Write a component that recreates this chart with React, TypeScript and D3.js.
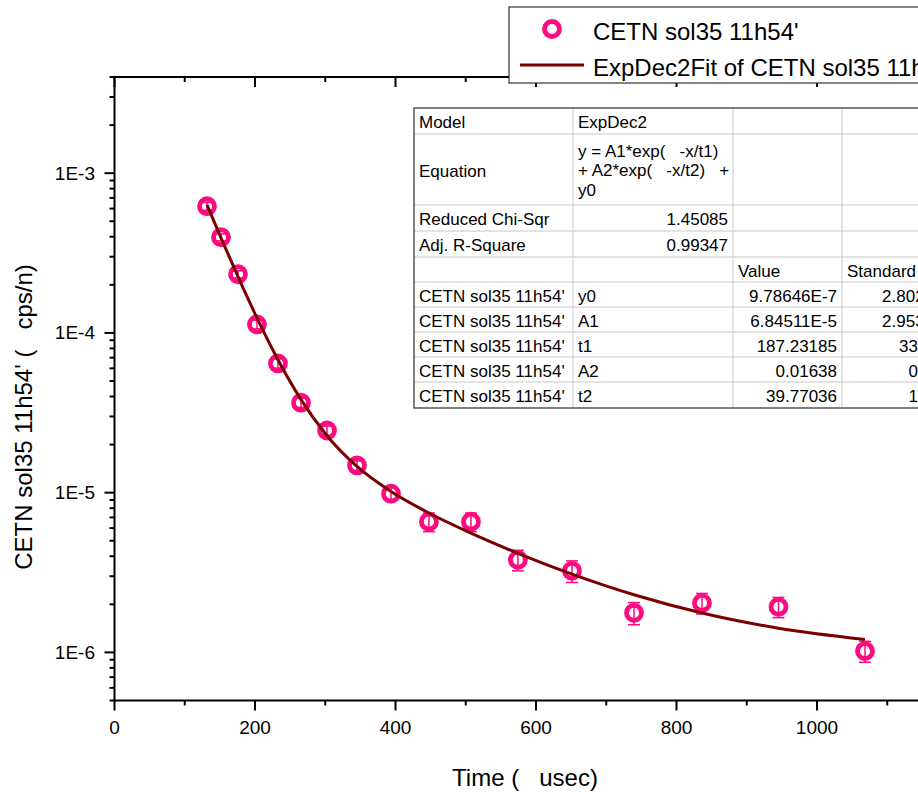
import React from "react";
import * as d3 from "d3";

// ---- data ----
const timeValues = [131.7, 151.6, 175.8, 202.8, 232.7, 265.5, 302.5, 345.2, 393.6, 447.6, 507.4, 574.3, 651.2, 739.5, 836.3, 945.2, 1068.3];
const countValues = [6.21e-4, 3.97e-4, 2.33e-4, 1.13e-4, 6.44e-5, 3.66e-5, 2.45e-5, 1.48e-5, 9.86e-6, 6.58e-6, 6.58e-6, 3.8e-6, 3.24e-6, 1.77e-6, 2.04e-6, 1.93e-6, 1.02e-6];
const countErrors = [3.5e-5, 2.0e-5, 1.2e-5, 7e-6, 4.2e-6, 2.4e-6, 1.6e-6, 1.0e-6, 0.9e-6, 0.88e-6, 0.88e-6, 0.56e-6, 0.5e-6, 0.28e-6, 0.3e-6, 0.28e-6, 0.153e-6];

const seriesName = "CETN sol35 11h54'";
const fitName = "ExpDec2Fit of CETN sol35 11h54'";

const paramNames = ["y0", "A1", "t1", "A2", "t2"];
const paramValues = [9.78646e-7, 6.84511e-5, 187.23185, 0.01638, 39.77036];
const paramValueLabels = ["9.78646E-7", "6.84511E-5", "187.23185", "0.01638", "39.77036"];
const paramErrorLabels = ["2.80237E-7", "2.95391E-5", "33.12734", "0.00127", "1.08325"];
const modelName = "ExpDec2";
const equationLines = ["y = A1*exp(   -x/t1)", "+ A2*exp(   -x/t2)   +", "y0"];
const chiSqrLabel = "1.45085";
const adjR2Label = "0.99347";

const xTitle = "Time (   usec)";
const yTitle = "CETN sol35 11h54' (   cps/n)";

// ---- layout ----
const W = 918;
const H = 792;
const left = 114.5;
const top = 77;
const bottom = 700.5;
const PINK = "#ff0a80";
const FIT = "#7a0000";
const FONT = "'Liberation Sans', Arial, sans-serif";

const x = d3.scaleLinear().domain([0, 1200]).range([left, left + 843]);
const y = d3.scaleLog().domain([5e-7, 4e-3]).range([bottom, top]);

function fitModel(t: number) {
  const [y0, A1, t1, A2, t2] = paramValues;
  return A1 * Math.exp(-t / t1) + A2 * Math.exp(-t / t2) + y0;
}

export default function App() {
  const yTicks = y.ticks();
  const isMajorY = (d: number) => {
    const e = Math.log10(d);
    return Math.abs(e - Math.round(e)) < 1e-6;
  };
  const xTicks = x.ticks(12);
  const isMajorX = (d: number) => d % 200 === 0;

  const fitPts = timeValues.map((t) => [x(t), y(fitModel(t))] as [number, number]);
  const fitPath = d3.line().curve(d3.curveMonotoneX)(fitPts) || "";

  // table geometry
  const colX = [414, 573, 733, 842, 975];
  const rowY = [108, 134, 205, 231, 257, 282, 307, 332, 357, 382, 408];
  const cellText = (
    txt: string,
    col: number,
    row: number,
    align: "start" | "end" = "start",
    key?: string
  ) => {
    const cy = (rowY[row] + rowY[row + 1]) / 2 + 1.5;
    const tx = align === "start" ? colX[col] + 5 : colX[col + 1] - 5;
    return (
      <text key={key} x={tx} y={cy} textAnchor={align} dominantBaseline="central" fontSize={17} style={{ whiteSpace: "pre" }}>
        {txt}
      </text>
    );
  };

  return (
    <div style={{ position: "fixed", left: 0, top: 0, width: W, height: H, background: "#fff" }}>
      <svg width={W} height={H} fontFamily={FONT} style={{ display: "block" }}>
        <rect x={0} y={0} width={W} height={H} fill="#fff" />

        {/* y-axis ticks (outward, left) */}
        {yTicks.map((d, i) => {
          const major = isMajorY(d);
          const py = y(d);
          return (
            <g key={"yt" + i}>
              <line x1={left - (major ? 10 : 5)} x2={left} y1={py} y2={py} stroke="#000" strokeWidth={2} />
              {major && (
                <text x={95} y={py} textAnchor="end" dominantBaseline="central" fontSize={19}>
                  {`1E${Math.round(Math.log10(d))}`}
                </text>
              )}
            </g>
          );
        })}

        {/* x-axis ticks bottom (outward) and top (inward) */}
        {xTicks.map((d, i) => {
          const major = isMajorX(d);
          const px = x(d);
          const len = major ? 10 : 5;
          return (
            <g key={"xt" + i}>
              <line x1={px} x2={px} y1={bottom} y2={bottom + len} stroke="#000" strokeWidth={2} />
              <line x1={px} x2={px} y1={top} y2={top + len} stroke="#000" strokeWidth={2} />
              {major && px + 20 < W && (
                <text x={px} y={727} textAnchor="middle" dominantBaseline="central" fontSize={19}>
                  {d3.format("d")(d)}
                </text>
              )}
            </g>
          );
        })}

        {/* axis lines */}
        <line x1={left} x2={left} y1={top - 1} y2={bottom + 1} stroke="#000" strokeWidth={2} />
        <line x1={left - 1} x2={W + 10} y1={bottom} y2={bottom} stroke="#000" strokeWidth={2} />
        <line x1={left - 1} x2={W + 10} y1={top} y2={top} stroke="#000" strokeWidth={2} />

        {/* axis titles */}
        <text x={525} y={777} textAnchor="middle" dominantBaseline="central" fontSize={24} style={{ whiteSpace: "pre" }}>
          {xTitle}
        </text>
        <text
          transform={`translate(23,417) rotate(-90)`}
          textAnchor="middle"
          dominantBaseline="central"
          fontSize={24}
          style={{ whiteSpace: "pre" }}
        >
          {yTitle}
        </text>

        {/* parameter table */}
        <g>
          <rect x={colX[0]} y={rowY[0]} width={colX[4] - colX[0]} height={rowY[10] - rowY[0]} fill="#fff" />
          {rowY.slice(1, -1).map((ry, i) => (
            <line key={"hr" + i} x1={colX[0]} x2={colX[4]} y1={ry} y2={ry} stroke="#c8c8c8" strokeWidth={1} />
          ))}
          {colX.slice(1, -1).map((cx, i) => (
            <line key={"vc" + i} x1={cx} x2={cx} y1={rowY[0]} y2={rowY[10]} stroke="#c8c8c8" strokeWidth={1} />
          ))}
          <rect
            x={colX[0]}
            y={rowY[0]}
            width={colX[4] - colX[0]}
            height={rowY[10] - rowY[0]}
            fill="none"
            stroke="#555"
            strokeWidth={1.5}
          />
          {cellText("Model", 0, 0)}
          {cellText(modelName, 1, 0)}
          {cellText("Equation", 0, 1)}
          {equationLines.map((ln, i) => (
            <text
              key={"eq" + i}
              x={colX[1] + 5}
              y={(rowY[1] + rowY[2]) / 2 + 1 + (i - 1) * 19.5}
              dominantBaseline="central"
              fontSize={17}
              style={{ whiteSpace: "pre" }}
            >
              {ln}
            </text>
          ))}
          {cellText("Reduced Chi-Sqr", 0, 2)}
          {cellText(chiSqrLabel, 1, 2, "end")}
          {cellText("Adj. R-Square", 0, 3)}
          {cellText(adjR2Label, 1, 3, "end")}
          {cellText("Value", 2, 4)}
          {cellText("Standard Error", 3, 4)}
          {paramNames.map((p, i) => (
            <g key={"pr" + i}>
              {cellText(seriesName, 0, 5 + i)}
              {cellText(p, 1, 5 + i)}
              {cellText(paramValueLabels[i], 2, 5 + i, "end")}
              {cellText(paramErrorLabels[i], 3, 5 + i, "end")}
            </g>
          ))}
        </g>

        {/* error bars */}
        {timeValues.map((t, i) => {
          const px = x(t);
          const yl = y(countValues[i] - countErrors[i]);
          const yh = y(countValues[i] + countErrors[i]);
          return (
            <g key={"eb" + i} stroke={PINK} strokeWidth={1.5}>
              <line x1={px} x2={px} y1={yl} y2={yh} />
              <line x1={px - 6} x2={px + 6} y1={yl} y2={yl} />
              <line x1={px - 6} x2={px + 6} y1={yh} y2={yh} />
            </g>
          );
        })}

        {/* markers */}
        {timeValues.map((t, i) => (
          <circle key={"m" + i} cx={x(t)} cy={y(countValues[i])} r={7.5} fill="none" stroke={PINK} strokeWidth={4.8} />
        ))}

        {/* fit line */}
        <path d={fitPath} fill="none" stroke={FIT} strokeWidth={3} />

        {/* legend */}
        <g>
          <rect x={509} y={7} width={480} height={76} fill="#fff" stroke="#333" strokeWidth={1.2} />
          <circle cx={552} cy={29} r={7.5} fill="none" stroke={PINK} strokeWidth={4.8} />
          <text x={593} y={31} dominantBaseline="central" fontSize={24}>
            {seriesName}
          </text>
          <line x1={520} x2={584} y1={65} y2={65} stroke={FIT} strokeWidth={3} />
          <text x={593} y={67} dominantBaseline="central" fontSize={24}>
            {fitName}
          </text>
        </g>
      </svg>
    </div>
  );
}
